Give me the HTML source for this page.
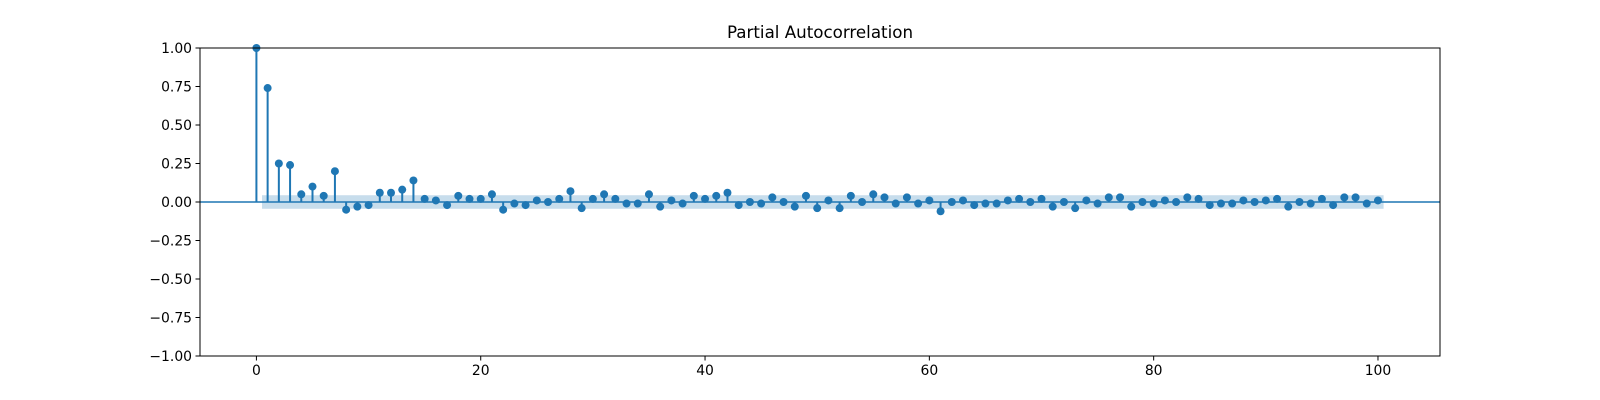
<!DOCTYPE html>
<html><head><meta charset="utf-8"><style>
html,body{margin:0;padding:0;background:#fff;}
svg{display:block;font-family:"DejaVu Sans","Liberation Sans",sans-serif;}
</style></head><body>
<svg id="chart" width="1600" height="400">
<text x="820" y="38" text-anchor="middle" font-size="16.7">Partial Autocorrelation</text>
<g id="band"></g><g id="grid"></g><g id="marks"></g>
<rect x="200" y="48" width="1240" height="308" fill="none" stroke="#000" stroke-width="1"/>
</svg>
<script>
const lags = Array.from({length:101},(_,i)=>i);
const pacf = [1.00,0.74,0.25,0.24,0.05,0.10,0.04,0.20,-0.05,-0.03,
-0.02,0.06,0.06,0.08,0.14,0.02,0.01,-0.02,0.04,0.02,
0.02,0.05,-0.05,-0.01,-0.02,0.01,0.00,0.02,0.07,-0.04,
0.02,0.05,0.02,-0.01,-0.01,0.05,-0.03,0.01,-0.01,0.04,
0.02,0.04,0.06,-0.02,0.00,-0.01,0.03,0.00,-0.03,0.04,
-0.04,0.01,-0.04,0.04,0.00,0.05,0.03,-0.01,0.03,-0.01,
0.01,-0.06,0.00,0.01,-0.02,-0.01,-0.01,0.01,0.02,0.00,
0.02,-0.03,0.00,-0.04,0.01,-0.01,0.03,0.03,-0.03,0.00,
-0.01,0.01,0.00,0.03,0.02,-0.02,-0.01,-0.01,0.01,0.00,
0.01,0.02,-0.03,0.00,-0.01,0.02,-0.02,0.03,0.03,-0.01,0.01];
const confBand = [0.044];
const xTicks = [0,20,40,60,80,100];
const yTicks = [-1,-0.75,-0.5,-0.25,0,0.25,0.5,0.75,1];
const NS="http://www.w3.org/2000/svg";
const X0=200,X1=1440,Y0=48,Y1=356,XMIN=-5.03,XMAX=105.53,YMIN=-1,YMAX=1;
const sx=v=>X0+(v-XMIN)/(XMAX-XMIN)*(X1-X0);
const sy=v=>Y1-(v-YMIN)/(YMAX-YMIN)*(Y1-Y0);
function mk(tag,attrs,parent){const e=document.createElementNS(NS,tag);for(const k in attrs)e.setAttribute(k,attrs[k]);document.getElementById(parent).appendChild(e);return e;}
const C="#1f77b4";
let b=mk('rect',{x:sx(0.5),y:sy(confBand[0]),width:sx(100.5)-sx(0.5),height:sy(-confBand[0])-sy(confBand[0]),fill:C,'fill-opacity':0.25},'band');


let z=mk('line',{x1:X0,x2:X1,y1:sy(0),y2:sy(0),stroke:C,'stroke-width':1.5},'marks');


lags.forEach((l,i)=>{
  const s=mk('line',{x1:sx(l),x2:sx(l),y1:sy(0),y2:sy(pacf[i]),stroke:C,'stroke-width':2},'marks');
  
  
  const c=mk('circle',{cx:sx(l),cy:sy(pacf[i]),r:4,fill:C},'marks');
  
  
});
xTicks.forEach(t=>{
  const tk=mk('line',{x1:sx(t),x2:sx(t),y1:Y1,y2:Y1+4.5,stroke:'#000','stroke-width':1},'grid');
  
  
  const tx=mk('text',{x:sx(t),y:Y1+19,'text-anchor':'middle','font-size':13.9},'grid');
  tx.textContent=t;
  
  
});
yTicks.forEach(t=>{
  const tk=mk('line',{x1:X0-4.5,x2:X0,y1:sy(t),y2:sy(t),stroke:'#000','stroke-width':1},'grid');
  
  
  const tx=mk('text',{x:X0-8,y:sy(t)+5,'text-anchor':'end','font-size':13.9},'grid');
  tx.textContent=(t<0?'\u2212':'')+Math.abs(t).toFixed(2);
  
  
});
</script>
</body></html>
